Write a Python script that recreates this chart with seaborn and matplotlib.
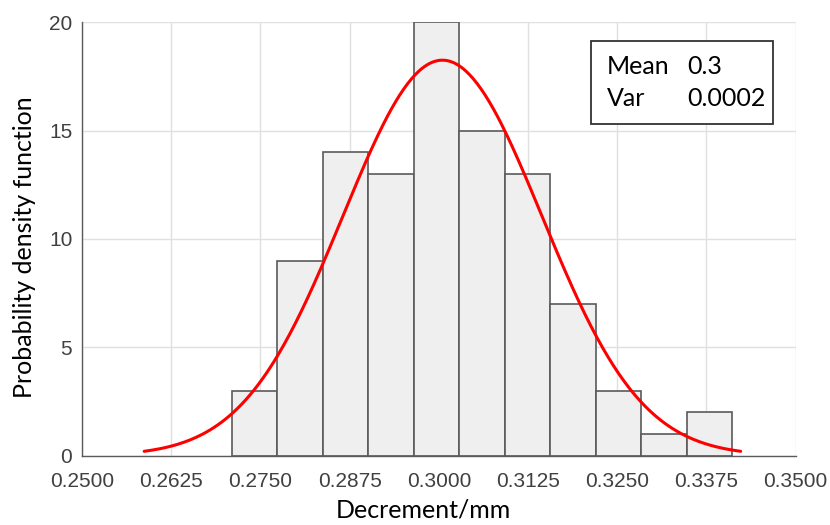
import numpy as np
import pandas as pd
import matplotlib
matplotlib.use("Agg")
import matplotlib.pyplot as plt
import seaborn as sns
from matplotlib.patches import Rectangle

# ---- data ----
bin_start = 0.27098
bin_width = 0.006373
counts = [3, 9, 14, 13, 20, 15, 13, 7, 3, 1, 2]
fit_mean = 0.3005
fit_sigma = 0.01393
x_ticks = [0.2500, 0.2625, 0.2750, 0.2875, 0.3000, 0.3125, 0.3250, 0.3375, 0.3500]
x_tick_labels = ["0.2500", "0.2625", "0.2750", "0.2875", "0.3000", "0.3125", "0.3250", "0.3375", "0.3500"]
y_ticks = [0, 5, 10, 15, 20]
stats_names = ["Mean", "Var"]
stats_values = ["0.3", "0.0002"]
x_label = "Decrement/mm"
y_label = "Probability density function"

# ---- derived tables ----
edges = [float(bin_start + bin_width * i) for i in range(len(counts) + 1)]
centers = [(edges[i] + edges[i + 1]) / 2 for i in range(len(counts))]
hist_df = pd.DataFrame({"x": centers, "w": counts})

n_total = sum(counts)
xs = np.linspace(fit_mean - 3 * fit_sigma, fit_mean + 3 * fit_sigma, 300)
pdf = n_total * bin_width / (fit_sigma * np.sqrt(2 * np.pi)) * np.exp(-0.5 * ((xs - fit_mean) / fit_sigma) ** 2)
fit_df = pd.DataFrame({"x": xs, "y": pdf})

sns.set_style("white")
plt.rcParams["font.family"] = ["Liberation Sans", "DejaVu Sans"]

W, H = 830, 525
fig = plt.figure(figsize=(W / 100, H / 100), dpi=100)
left, right, top, bottom = 82, 795.7, 22.3, 455.7
ax = fig.add_axes([left / W, 1 - bottom / H, (right - left) / W, (bottom - top) / H])

sns.histplot(data=hist_df, x="x", weights="w", bins=edges, ax=ax,
             color="#efefef", edgecolor="#5a5a5a", linewidth=1.2, alpha=1.0)
sns.lineplot(data=fit_df, x="x", y="y", ax=ax, color="#ff0000", linewidth=2.2)

ax.set_xlim(0.25, 0.35)
ax.set_ylim(0, 20)
ax.set_xticks(x_ticks)
ax.set_xticklabels(x_tick_labels)
ax.set_yticks(y_ticks)
ax.grid(True, color="#e0e0e0", linewidth=1.0)
ax.set_axisbelow(True)
for s in ["top", "right"]:
    ax.spines[s].set_visible(False)
for s in ["left", "bottom"]:
    ax.spines[s].set_color("#5a5a5a")
    ax.spines[s].set_linewidth(1.0)
ax.tick_params(axis="both", direction="in", length=5, width=1.0, color="#5a5a5a",
               labelsize=15, labelcolor="#404040", pad=7)
ax.tick_params(axis="x", pad=12)

ax.set_xlabel("")
ax.set_ylabel("")
lab_font = ["Lato", "DejaVu Sans"]
fig.text(423 / W, 1 - 510 / H, x_label, ha="center", va="center", fontsize=18,
         family=lab_font, color="black")
fig.text(25 / W, 1 - 247 / H, y_label, ha="center", va="center", rotation=90,
         fontsize=18, family=lab_font, color="black")

# stats box
bx0, bx1, by0, by1 = 590.7, 773.3, 41.3, 124.0
fig.patches.append(Rectangle((bx0 / W, 1 - by1 / H), (bx1 - bx0) / W, (by1 - by0) / H,
                             transform=fig.transFigure, facecolor="white",
                             edgecolor="#333333", linewidth=1.3, zorder=5))
row_y = [66, 99]
for name, val, yy in zip(stats_names, stats_values, row_y):
    fig.text(607 / W, 1 - yy / H, name, ha="left", va="center", fontsize=18,
             family=lab_font, color="black", zorder=6)
    fig.text(687 / W, 1 - yy / H, val, ha="left", va="center", fontsize=18,
             family=lab_font, color="black", zorder=6)

fig.savefig("out.png", dpi=100)
